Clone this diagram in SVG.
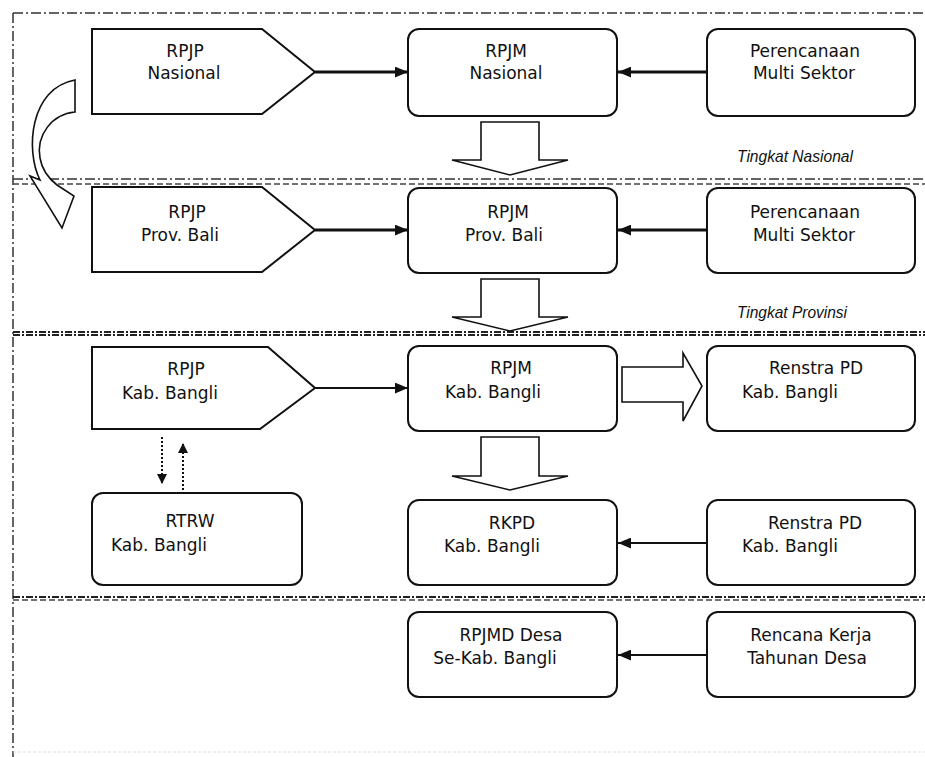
<svg xmlns="http://www.w3.org/2000/svg" width="925" height="757" viewBox="0 0 925 757">
<style>
.box{fill:#fff;stroke:#111;stroke-width:2}
.t{font-family:"DejaVu Sans","Liberation Sans",sans-serif;font-size:17px;fill:#111;text-anchor:middle}
.lvl{font-family:"Liberation Sans","DejaVu Sans",sans-serif;font-size:17px;font-style:italic;fill:#111}
.sep{fill:none;stroke:#333;stroke-width:1.5;stroke-dasharray:10,3,2,3}
.sep2{fill:none;stroke:#444;stroke-width:1.5;stroke-dasharray:6,3}
.sepb{fill:none;stroke:#222;stroke-width:2;stroke-dasharray:7,2,2,2}
.con{fill:none;stroke:#111;stroke-width:3}
.con2{fill:none;stroke:#111;stroke-width:2}
.dot{fill:none;stroke:#111;stroke-width:2;stroke-dasharray:2,2}
.hollow{fill:#fff;stroke:#111;stroke-width:1.6;stroke-linejoin:miter}
</style>
<defs>
<marker id="ah" viewBox="0 0 12 10" refX="12" refY="5" markerWidth="13" markerHeight="11" markerUnits="userSpaceOnUse" orient="auto"><path d="M0,0 L12,5 L0,10 z" fill="#111"/></marker>
<marker id="ahs" viewBox="0 0 10 10" refX="10" refY="5" markerWidth="10" markerHeight="10" markerUnits="userSpaceOnUse" orient="auto"><path d="M0,0 L10,5 L0,10 z" fill="#111"/></marker>
</defs>
<rect width="925" height="757" fill="#fff"/>
<g id="frame">
<line class="sep" x1="13" y1="13" x2="925" y2="13"/>
<line class="sep" x1="13" y1="13" x2="13" y2="757"/>
<line class="sep" x1="13" y1="179" x2="925" y2="179"/>
<line class="sep2" x1="13" y1="184" x2="925" y2="184"/>
<line class="sepb" x1="13" y1="332" x2="925" y2="332"/>
<line class="sepb" x1="13" y1="335" x2="925" y2="335"/>
<line class="sepb" x1="13" y1="597" x2="925" y2="597"/>
<line class="sep2" x1="13" y1="600" x2="925" y2="600" stroke-width="1.2"/>
<line x1="13" y1="752" x2="925" y2="752" stroke="#ddd" stroke-width="1" stroke-dasharray="3,2"/>
</g>
<g id="curved-arrow">
<path class="hollow" d="M75,80 L75,112 C52,114 36,135 40,158 C42,170 48,178 57,185 L74,196 L62,228 L30,176 L40,180 C25,150 30,88 75,80 Z"/>
</g>
<g id="labels">
<text class="lvl" x="737" y="162" textLength="116" lengthAdjust="spacingAndGlyphs">Tingkat Nasional</text>
<text class="lvl" x="737" y="318" textLength="110" lengthAdjust="spacingAndGlyphs">Tingkat Provinsi</text>
</g>
<g id="rpjp-nasional">
<path class="box" d="M92,29 L262,29 L315,72 L262,114 L92,114 Z"/>
<text class="t" x="185" y="57">RPJP</text>
<text class="t" x="184" y="79">Nasional</text>
</g>
<g id="rpjm-nasional">
<rect class="box" x="408" y="29" width="209" height="87" rx="11"/>
<text class="t" x="506" y="57">RPJM</text>
<text class="t" x="506" y="79">Nasional</text>
</g>
<g id="multi-sektor-nasional">
<rect class="box" x="707" y="29" width="208" height="87" rx="11"/>
<text class="t" x="805" y="57">Perencanaan</text>
<text class="t" x="804" y="79">Multi Sektor</text>
</g>
<g id="rpjp-prov">
<path class="box" d="M92,187 L262,187 L315,230 L262,272 L92,272 Z"/>
<text class="t" x="187" y="218">RPJP</text>
<text class="t" x="180" y="241">Prov. Bali</text>
</g>
<g id="rpjm-prov">
<rect class="box" x="408" y="188" width="209" height="85" rx="11"/>
<text class="t" x="508" y="218">RPJM</text>
<text class="t" x="504" y="241">Prov. Bali</text>
</g>
<g id="multi-sektor-prov">
<rect class="box" x="707" y="188" width="208" height="85" rx="11"/>
<text class="t" x="805" y="218">Perencanaan</text>
<text class="t" x="804" y="241">Multi Sektor</text>
</g>
<g id="rpjp-kab">
<path class="box" d="M92,347 L268,347 L315,388 L260,429 L92,429 Z"/>
<text class="t" x="186" y="375">RPJP</text>
<text class="t" x="170" y="399">Kab. Bangli</text>
</g>
<g id="rpjm-kab">
<rect class="box" x="408" y="346" width="209" height="85" rx="11"/>
<text class="t" x="511" y="374">RPJM</text>
<text class="t" x="493" y="398">Kab. Bangli</text>
</g>
<g id="renstra-1">
<rect class="box" x="707" y="346" width="208" height="85" rx="11"/>
<text class="t" x="816" y="374">Renstra PD</text>
<text class="t" x="790" y="398">Kab. Bangli</text>
</g>
<g id="rtrw">
<rect class="box" x="92" y="493" width="210" height="92" rx="11"/>
<text class="t" x="190" y="527">RTRW</text>
<text class="t" x="159" y="551">Kab. Bangli</text>
</g>
<g id="rkpd">
<rect class="box" x="408" y="500" width="209" height="85" rx="11"/>
<text class="t" x="512" y="529">RKPD</text>
<text class="t" x="492" y="552">Kab. Bangli</text>
</g>
<g id="renstra-2">
<rect class="box" x="707" y="500" width="208" height="85" rx="11"/>
<text class="t" x="815" y="529">Renstra PD</text>
<text class="t" x="790" y="552">Kab. Bangli</text>
</g>
<g id="rpjmd-desa">
<rect class="box" x="408" y="612" width="209" height="85" rx="11"/>
<text class="t" x="511" y="641">RPJMD Desa</text>
<text class="t" x="495" y="664">Se-Kab. Bangli</text>
</g>
<g id="rencana-kerja">
<rect class="box" x="707" y="612" width="208" height="85" rx="11"/>
<text class="t" x="811" y="641">Rencana Kerja</text>
<text class="t" x="807" y="664">Tahunan Desa</text>
</g>
<g id="connectors">
<line class="con" x1="315" y1="72" x2="408" y2="72" marker-end="url(#ah)"/>
<line class="con" x1="707" y1="72" x2="618" y2="72" marker-end="url(#ah)"/>
<line class="con" x1="315" y1="230" x2="408" y2="230" marker-end="url(#ah)"/>
<line class="con" x1="707" y1="230" x2="618" y2="230" marker-end="url(#ah)"/>
<line class="con2" x1="315" y1="388" x2="408" y2="388" marker-end="url(#ah)"/>
<line class="con2" x1="707" y1="543" x2="618" y2="543" marker-end="url(#ah)"/>
<line class="con2" x1="707" y1="655" x2="618" y2="655" marker-end="url(#ah)"/>
<line class="dot" x1="162" y1="437" x2="162" y2="484" marker-end="url(#ahs)"/>
<line class="dot" x1="183" y1="490" x2="183" y2="443" marker-end="url(#ahs)"/>
<polygon class="hollow" points="481,122 539,122 539,160 568,160 510,175 452,160 481,160"/>
<polygon class="hollow" points="481,279 539,279 539,317 568,317 510,331 452,317 481,317"/>
<polygon class="hollow" points="481,437 539,437 539,476 568,476 510,490 452,476 481,476"/>
<polygon class="hollow" points="622,367 683,367 683,353 702,386 683,421 683,402 622,402"/>
</g>
</svg>
